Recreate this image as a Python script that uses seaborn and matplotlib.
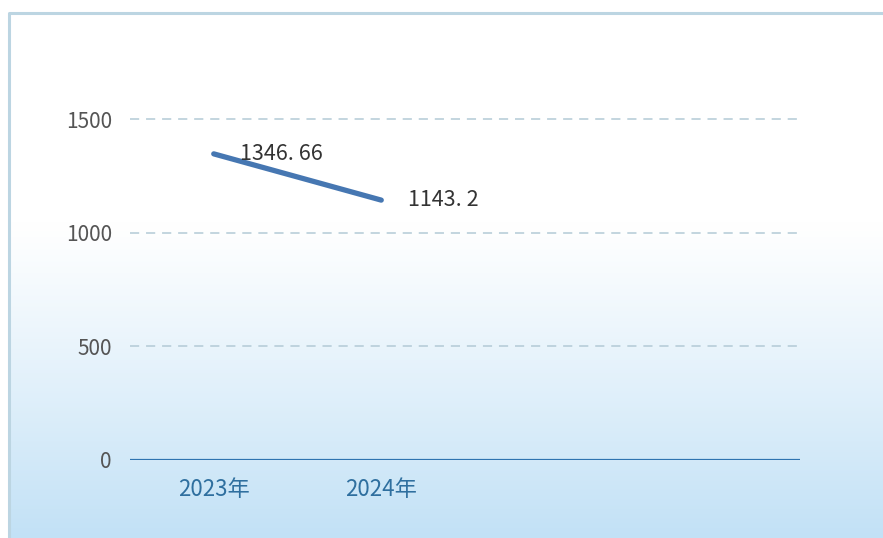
import numpy as np
import matplotlib as mpl
mpl.use('Agg')
import matplotlib.pyplot as plt
import seaborn as sns
import pandas as pd

years = ['2023年', '2024年', '', '']
values = [1346.66, 1143.2]
label_text = ['1346. 66', '1143. 2']
yticks = [0, 500, 1000, 1500]

sns.set_style('white')
plt.rcParams['font.family'] = ['Noto Sans CJK SC', 'DejaVu Sans']

W, H = 883, 538
fig = plt.figure(figsize=(W / 100, H / 100), dpi=100)

# background: white at top fading to pale blue, inside a thin framed box
bg = fig.add_axes([0, 0, 1, 1])
bg.set_xlim(0, W)
bg.set_ylim(H, 0)
bg.axis('off')
t = np.linspace(0, 1, H)
fade = np.clip((t - 0.40) / 0.60, 0, 1) ** 1.1
top = np.array([1.0, 1.0, 1.0])
bottom = np.array([0xc2, 0xe1, 0xf6]) / 255
grad = top[None, :] * (1 - fade[:, None]) + bottom[None, :] * fade[:, None]
img = np.repeat(grad[:, None, :], W - 9, axis=1)
bg.imshow(img, extent=[9, W, H, 13], aspect='auto', zorder=0)
bg.plot([8.5, 8.5, W], [H, 12.5, 12.5], color='#bcd5e2', lw=2.2, zorder=1)

# main plot area: x 130..800 px, y=0 at 460 px, 1500 at 119 px
scale = (460 - 119) / 1500
ytop = 460 / scale
ax = fig.add_axes([130 / W, (H - 460) / H, 670 / W, 460 / H])
ax.patch.set_alpha(0)

df = pd.DataFrame({'x': [0, 1], 'y': values})
sns.lineplot(data=df, x='x', y='y', ax=ax, color='#4677b2', lw=3.8,
             solid_capstyle='round', zorder=3)
for i, v in enumerate(values):
    ax.annotate(label_text[i], (i, v), xytext=(19, 0), textcoords='offset points',
                ha='left', va='center', fontsize=15.5, color='#333333',
                zorder=4)

ax.set_xlim(-0.5, 3.5)
ax.set_ylim(0, ytop)
ax.set_yticks(yticks)
ax.set_yticklabels([str(v) for v in yticks], color='#555555', fontsize=15)
ax.set_xticks(range(len(years)))
ax.set_xticklabels(years, color='#2f6f9f', fontsize=16)
ax.tick_params(axis='y', length=0, pad=13)
ax.tick_params(axis='x', length=0, pad=13)
for v in yticks[1:]:
    ax.axhline(v, color='#b3cad6', lw=1.1, ls=(0, (6, 4.5)), zorder=1)
ax.axhline(0, color='#2f73b0', lw=1.6, zorder=2)
for s in ax.spines.values():
    s.set_visible(False)
ax.set_xlabel('')
ax.set_ylabel('')

fig.savefig('out.png', dpi=100)
